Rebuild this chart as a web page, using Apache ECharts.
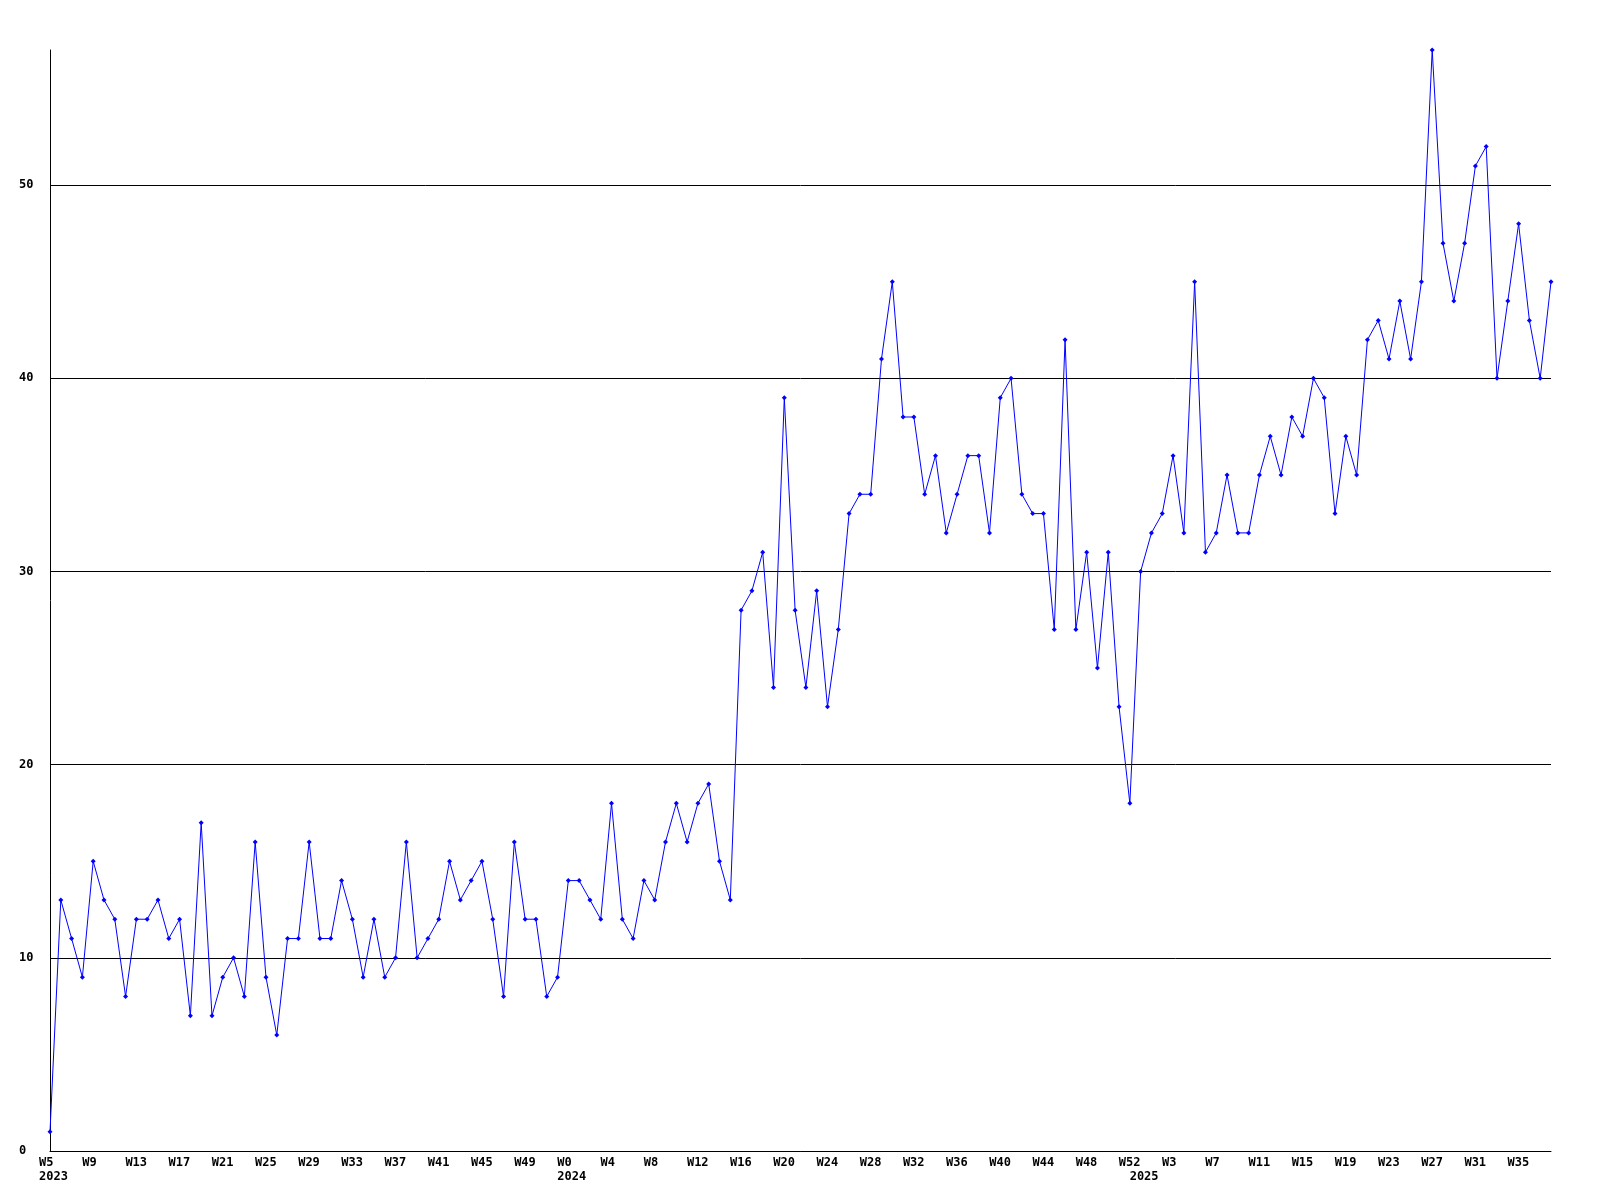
<!DOCTYPE html>
<html>
<head>
<meta charset="utf-8">
<script src="https://cdn.jsdelivr.net/npm/echarts@6/dist/echarts.min.js"></script>
<style>
  html, body { margin: 0; padding: 0; background: #fff; }
  #chart { width: 1600px; height: 1200px; }
</style>
</head>
<body>
<div id="chart"></div>
<script>
// week ranges per year (first week, last week)
const yearRanges = [
  [2023, 5, 52],
  [2024, 0, 52],
  [2025, 0, 38]
];

// weekly counts
const counts2023 = [
  1, 13, 11, 9, 15, 13, 12, 8, 12, 12, 13, 11, 12, 7, 17, 7, 9, 10, 8, 16,
  9, 6, 11, 11, 16, 11, 11, 14, 12, 9, 12, 9, 10, 16, 10, 11, 12, 15, 13, 14,
  15, 12, 8, 16, 12, 12, 8, 9
];
const counts2024 = [
  14, 14, 13, 12, 18, 12, 11, 14, 13, 16, 18, 16, 18, 19, 15, 13, 28, 29, 31, 24,
  39, 28, 24, 29, 23, 27, 33, 34, 34, 41, 45, 38, 38, 34, 36, 32, 34, 36, 36, 32,
  39, 40, 34, 33, 33, 27, 42, 27, 31, 25, 31, 23, 18
];
const counts2025 = [
  30, 32, 33, 36, 32, 45, 31, 32, 35, 32, 32, 35, 37, 35, 38, 37, 40, 39, 33, 37,
  35, 42, 43, 41, 44, 41, 45, 57, 47, 44, 47, 51, 52, 40, 44, 48, 43, 40, 45
];

const yTicks = [0, 10, 20, 30, 40, 50];

const weeks = [];
const years = [];
yearRanges.forEach(([y, a, b]) => {
  for (let w = a; w <= b; w++) { weeks.push(w); years.push(y); }
});
const categories = weeks.map((w, i) => years[i] + '-W' + w);
const values = counts2023.concat(counts2024, counts2025);

const FONT = "'DejaVu Sans Mono', monospace";

function isYearStart(i) {
  return i === 0 || years[i] !== years[i - 1];
}

const chart = echarts.init(document.getElementById('chart'), null, { renderer: 'canvas' });

chart.setOption({
  animation: false,
  backgroundColor: '#ffffff',
  grid: { left: 50, right: 49, top: 50, bottom: 49, containLabel: false },
  xAxis: {
    type: 'category',
    data: categories,
    boundaryGap: false,
    axisLine: { show: true, lineStyle: { color: '#000', width: 1 } },
    axisTick: { show: false },
    splitLine: { show: false },
    axisLabel: {
      interval: (i) => i % 4 === 0 || isYearStart(i),
      margin: 5,
      align: 'center',
      formatter: (val, i) => {
        const top = i % 4 === 0 ? 'W' + weeks[i] : ' ';
        return isYearStart(i) ? '{t|' + top + '}\n{t|' + years[i] + '}' : '{t|' + top + '}';
      },
      rich: {
        t: {
          width: 22, align: 'left', color: '#000',
          fontFamily: FONT, fontWeight: 'bold', fontSize: 12, lineHeight: 14
        }
      }
    }
  },
  yAxis: {
    type: 'value',
    min: 0,
    max: 57,
    interval: 10,
    axisLine: { show: true, lineStyle: { color: '#000', width: 1 } },
    axisTick: { show: false },
    splitLine: { show: true, showMaxLine: false, lineStyle: { color: '#000', width: 1 } },
    axisLabel: {
      showMaxLabel: false,
      align: 'left',
      margin: 31,
      color: '#000',
      fontFamily: FONT,
      fontWeight: 'bold',
      fontSize: 12,
      formatter: (v) => yTicks.indexOf(v) >= 0 ? String(v) : ''
    }
  },
  series: [{
    type: 'line',
    data: values,
    showSymbol: true,
    showAllSymbol: true,
    symbol: 'diamond',
    symbolSize: 5,
    itemStyle: { color: '#0000ff' },
    lineStyle: { color: '#0000ff', width: 1 },
    emphasis: { disabled: true }
  }]
});
</script>
</body>
</html>
